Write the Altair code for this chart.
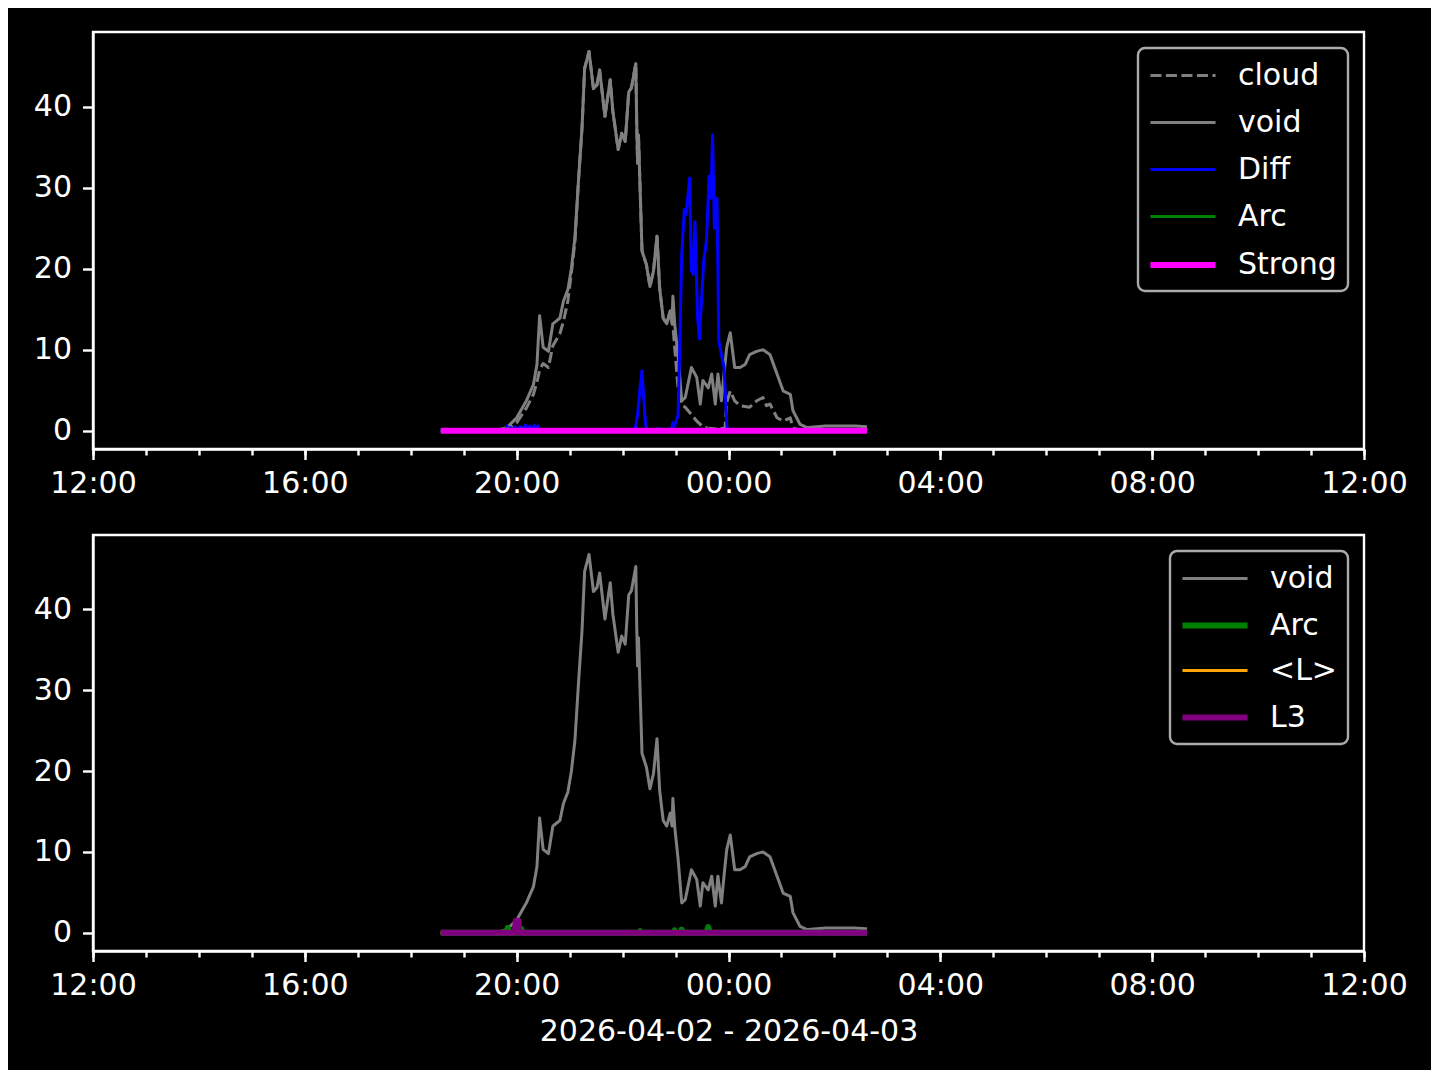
import altair as alt
import pandas as pd

# ---------------- data ----------------
void_t = ["18:34","19:40","19:49","20:00","20:11","20:19","20:23","20:26","20:30","20:36",
          "20:41","20:49","20:53","20:58","21:02","21:06","21:10","21:14","21:17","21:22",
          "21:27","21:31","21:34","21:40","21:46","21:49","21:55","21:59","22:03","22:07",
          "22:10","22:15","22:16","22:17","22:18","22:22","22:27","22:31","22:35","22:39",
          "22:42","22:46","22:50","22:54","22:56","22:57","22:59","23:03","23:07","23:11",
          "23:18","23:24","23:28","23:31","23:37","23:41","23:45","23:48","23:52","23:56",
          "23:58","00:02","00:07","00:13","00:19","00:24","00:32","00:39","00:47","00:55",
          "01:02","01:10","01:13","01:21","01:29","01:51","02:21","02:37"]
void_v = [0.0, 0.1, 0.4, 1.6, 3.7, 5.7, 8.2, 14.2, 10.3, 9.8,
          13.2, 13.9, 16.0, 17.4, 20.0, 23.8, 30.8, 37.3, 44.7, 46.8,
          42.2, 42.7, 44.5, 38.8, 43.3, 39.4, 34.7, 36.7, 35.7, 41.8,
          42.3, 45.3, 38.0, 33.0, 36.5, 22.2, 20.5, 17.8, 19.7, 24.0,
          17.6, 13.9, 13.2, 14.8, 13.2, 16.6, 13.2, 9.0, 3.7, 4.1,
          7.8, 6.6, 3.3, 6.2, 5.3, 7.0, 3.3, 7.0, 3.7, 8.2,
          10.3, 12.1, 7.8, 7.8, 8.2, 9.4, 9.8, 10.0, 9.4, 7.0,
          4.9, 4.5, 2.5, 0.8, 0.4, 0.6, 0.6, 0.5]

cloud_t = ["18:34","19:40","19:49","20:00","20:11","20:19","20:23","20:26","20:30","20:36",
           "20:41","20:49","20:53","20:58","21:02","21:06","21:10","21:14","21:17","21:22",
           "21:27","21:31","21:34","21:40","21:46","21:49","21:55","21:59","22:03","22:07",
           "22:10","22:15","22:16","22:17","22:18","22:22","22:27","22:31","22:35","22:39",
           "22:42","22:46","22:50","22:54","22:57","23:03","23:07","23:11","23:18","23:24",
           "23:31","23:37","23:48","23:56","23:58","00:02","00:07","00:13","00:24","00:32",
           "00:39","00:43","00:47","00:55","01:02","01:10","01:13","01:21","02:37"]
cloud_v = [0.0, 0.0, 0.2, 1.0, 2.8, 4.5, 6.0, 7.5, 8.3, 7.8,
           10.5, 12.0, 13.5, 16.0, 19.5, 23.3, 30.8, 37.3, 44.7, 46.8,
           42.2, 42.7, 44.5, 38.8, 43.3, 39.4, 34.7, 36.7, 35.7, 41.8,
           42.3, 45.3, 38.0, 33.0, 36.5, 22.2, 20.5, 17.8, 19.7, 24.0,
           17.6, 13.9, 13.2, 14.8, 13.0, 5.0, 3.2, 2.9, 2.0, 1.2,
           0.5, 0.3, 0.2, 0.3, 3.5, 4.9, 3.7, 3.1, 2.9, 3.7,
           4.1, 3.1, 3.3, 1.6, 1.2, 1.6, 0.3, 0.1, 0.0]

diff_t = ["18:34","19:47","19:49","19:51","19:53","19:55","19:58","20:01","20:04","20:07",
          "20:10","20:12","20:15","20:17","20:20","20:22","20:24","20:26","22:14","22:17",
          "22:20","22:22","22:24","22:26","22:28","22:38","22:40","22:41","22:55","22:57",
          "22:59","23:03","23:07","23:10","23:12","23:16","23:18","23:20","23:22","23:25",
          "23:27","23:29","23:32","23:35","23:38","23:40","23:42","23:44","23:47","23:49",
          "23:52","23:55","23:58","23:59","02:37"]
diff_v = [0.0, 0.0, 0.6, 0.1, 0.4, 0.0, 0.5, 0.1, 0.5, 0.2,
          0.7, 0.1, 0.6, 0.0, 0.7, 0.1, 0.6, 0.0, 0.0, 2.0,
          5.5, 7.4, 4.0, 0.8, 0.0, 0.0, 0.3, 0.0, 0.0, 1.0,
          0.6, 2.0, 21.7, 27.3, 26.7, 31.2, 19.7, 19.3, 25.8, 13.9,
          11.3, 15.2, 21.1, 23.4, 31.4, 28.7, 36.5, 25.0, 28.7, 11.1,
          9.4, 7.8, 0.8, 0.0, 0.0]

arc_top_t = ["18:34","19:48","19:50","19:52","20:03","20:05","20:07","23:35","23:37","23:39","02:37"]
arc_top_v = [0.0, 0.0, 0.3, 0.0, 0.0, 0.2, 0.0, 0.0, 0.3, 0.0, 0.0]

strong_t = ["18:34", "02:37"]
strong_v = [0.0, 0.0]

arc_bot_t = ["18:34","19:48","19:50","19:52","20:03","20:05","20:07","22:19","22:20","22:21",
             "22:58","22:59","23:00","23:06","23:07","23:08","23:35","23:37","23:39","02:37"]
arc_bot_v = [0.0, 0.0, 0.6, 0.0, 0.0, 0.5, 0.0, 0.0, 0.2, 0.0,
             0.0, 0.3, 0.0, 0.0, 0.4, 0.0, 0.0, 0.7, 0.0, 0.0]

meanl_t = ["18:34", "02:37"]
meanl_v = [0.0, 0.0]

l3_t = ["18:34","19:58","19:59","20:02","20:03","02:37"]
l3_v = [0.0, 0.0, 1.5, 1.5, 0.0, 0.0]

top_series = ["cloud", "void", "Diff", "Arc", "Strong"]
top_colors = ["#808080", "#808080", "#0000ff", "#008000", "#ff00ff"]
top_dashes = [[11, 4.5], [1, 0], [1, 0], [1, 0], [1, 0]]
top_widths = [3, 3, 3, 3, 6]

bot_series = ["void", "Arc", "<L>", "L3"]
bot_colors = ["#808080", "#008000", "#ffa500", "#800080"]
bot_dashes = [[1, 0], [1, 0], [1, 0], [1, 0]]
bot_widths = [3, 6, 3, 6]

x_major = ["12:00", "16:00", "20:00", "00:00", "04:00", "08:00", "12:00"]
y_ticks = [0, 10, 20, 30, 40]
x_title = "2026-04-02 - 2026-04-03"


def stamp(hhmm):
    h = int(hhmm[:2])
    day = 2 if h >= 12 else 3
    return f"2026-04-0{day}T{hhmm}:00"


def frame(times, values, name):
    return pd.DataFrame({"t": [stamp(s) for s in times], "v": values, "series": name})


top_df = pd.concat([
    frame(cloud_t, cloud_v, "cloud"),
    frame(void_t, void_v, "void"),
    frame(diff_t, diff_v, "Diff"),
    frame(arc_top_t, arc_top_v, "Arc"),
    frame(strong_t, strong_v, "Strong"),
], ignore_index=True)

bot_df = pd.concat([
    frame(void_t, void_v, "void"),
    frame(arc_bot_t, arc_bot_v, "Arc"),
    frame(meanl_t, meanl_v, "<L>"),
    frame(l3_t, l3_v, "L3"),
], ignore_index=True)


def dt(s, first):
    h = int(s[:2])
    d = 3 if (not first and (h < 12 or s == "12:00")) else 2
    return alt.DateTime(year=2026, month=4, date=d, hours=h, minutes=int(s[3:]))


major_vals = [dt(s, i == 0) for i, s in enumerate(x_major)]
minor_vals = [alt.DateTime(year=2026, month=4, date=2 if h < 24 else 3, hours=h % 24)
              for h in range(12, 37)]

xscale = alt.Scale(domain=[major_vals[0], major_vals[-1]], nice=False)
yscale = alt.Scale(domain=[-2.25, 49.2], nice=False, zero=False)

FONT = "DejaVu Sans"

yaxis = alt.Axis(values=y_ticks, tickSize=10.5, tickWidth=2.4, labelPadding=11, grid=False,
                 title=None, domainWidth=2.4, minExtent=83, maxExtent=83)


def panel(df, series, colors, dashes, widths, height, title, row_pad):
    xaxis_kw = dict(values=major_vals, format="%H:%M", tickSize=10.5, tickWidth=2.4,
                    labelPadding=9, labelFlush=False, labelOverlap=False, grid=False,
                    domainWidth=2.4, orient="bottom")
    if title:
        xaxis_kw.update(title=title, titlePadding=16)
    else:
        xaxis_kw.update(title=None)
    leg = alt.Legend(title=None, orient="top-right", offset=16, rowPadding=row_pad)
    layers = []
    for s in series:
        layers.append(
            alt.Chart(df).transform_filter(alt.datum.series == s)
            .mark_line(strokeJoin="round", strokeCap="butt")
            .encode(
                x=alt.X("t:T", scale=xscale, axis=alt.Axis(**xaxis_kw)),
                y=alt.Y("v:Q", scale=yscale, axis=yaxis),
                color=alt.Color("series:N", scale=alt.Scale(domain=series, range=colors),
                                legend=leg),
                strokeDash=alt.StrokeDash("series:N",
                                          scale=alt.Scale(domain=series, range=dashes),
                                          legend=leg),
                strokeWidth=alt.StrokeWidth("series:N",
                                            scale=alt.Scale(type="ordinal", domain=series,
                                                            range=widths),
                                            legend=leg),
            )
        )
    main = alt.layer(*layers)
    minor = alt.Chart(df).mark_line(opacity=0).encode(
        x=alt.X("t:T", scale=xscale,
                axis=alt.Axis(values=minor_vals, labels=False, tickSize=6, tickWidth=2.4,
                              domain=False, grid=False, title=None, orient="bottom")),
        y=alt.Y("v:Q", scale=yscale, axis=yaxis),
    )
    return alt.layer(main, minor).resolve_axis(x="independent").properties(
        width=1271, height=height)


top = panel(top_df, top_series, top_colors, top_dashes, top_widths, 417, None, 15)
bottom = panel(bot_df, bot_series, bot_colors, bot_dashes, bot_widths, 416, x_title, 13.5)

chart = (
    alt.vconcat(top, bottom, spacing=86, bounds="flush")
    .resolve_scale(color="independent", strokeDash="independent", strokeWidth="independent")
    .properties(background="black", padding={"left": 0, "top": 22, "right": 22, "bottom": 22})
    .configure_view(stroke="white", strokeWidth=2.4)
    .configure_axis(labelColor="white", tickColor="white", domainColor="white",
                    labelFont=FONT, labelFontSize=30, titleFont=FONT, titleFontSize=30,
                    titleColor="white", titleFontWeight="normal")
    .configure_legend(fillColor="black", strokeColor="#aaaaaa", strokeWidth=2.4,
                      cornerRadius=7, padding=11, labelColor="white", labelFont=FONT,
                      labelFontSize=30, symbolType="M-2.17,0L2.17,0", symbolSize=900,
                      symbolOffset=16, labelOffset=37, labelLimit=400)
)

chart.save("out.html", embed_options={"renderer": "svg", "actions": False})
